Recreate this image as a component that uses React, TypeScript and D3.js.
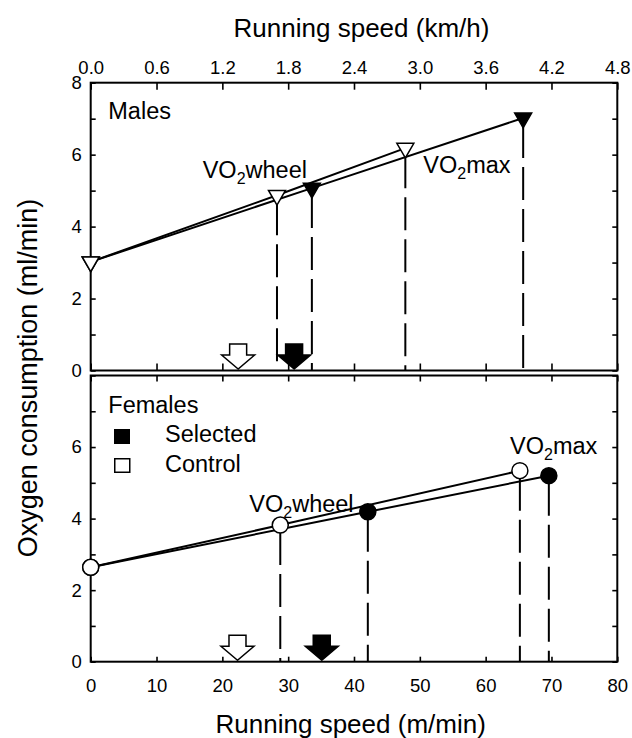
import React, { useEffect, useRef } from 'react';
import * as d3 from 'd3';

const W = 632;
const H = 738;

// Tick values
const speedTicks = [0, 10, 20, 30, 40, 50, 60, 70, 80];
const kmhTicks = [0, 0.6, 1.2, 1.8, 2.4, 3.0, 3.6, 4.2, 4.8];
const vo2Ticks = [0, 1, 2, 3, 4, 5, 6, 7, 8];
const upperLabels = [0, 2, 4, 6, 8];
const lowerLabels = [0, 2, 4, 6];

// Males (m/min, ml/min)
const maleControlSpeed = [0, 28.3, 47.8];
const maleControlVO2 = [3.02, 4.87, 6.18];
const maleSelectedSpeed = [0, 33.6, 65.7];
const maleSelectedVO2 = [3.02, 5.07, 7.02];
const maleArrowControl = 22.4;
const maleArrowSelected = 30.9;

// Females
const femaleControlSpeed = [0, 28.8, 65.2];
const femaleControlVO2 = [2.64, 3.82, 5.34];
const femaleSelectedSpeed = [0, 42.1, 69.6];
const femaleSelectedVO2 = [2.64, 4.19, 5.2];
const femaleArrowControl = 22.3;
const femaleArrowSelected = 35.1;

const FONT = "'Liberation Sans', Arial, Helvetica, sans-serif";

export default function App() {
  const ref = useRef<SVGSVGElement>(null);

  useEffect(() => {
    const svg = d3.select(ref.current);
    svg.selectAll('*').remove();

    const X0 = 90.7;
    const X1 = 617.3;
    const x = d3.scaleLinear().domain([0, 80]).range([X0, X1]);
    const xKm = d3.scaleLinear().domain([0, 4.8]).range([X0, X1]);
    const yU = d3.scaleLinear().domain([0, 8]).range([370.5, 82.7]);
    const yL = d3.scaleLinear().domain([0, 8]).range([661.7, 375.5]);

    const styleAxis = (g: any, size = 18.5) => {
      g.select('.domain').remove();
      g.selectAll('line').attr('stroke', '#000').attr('stroke-width', 1.6);
      g.selectAll('text').attr('font-size', size).attr('font-family', FONT).attr('fill', '#000');
      g.attr('font-family', FONT);
    };

    const panels = [
      {
        y: yU,
        labels: upperLabels,
        top: true,
        groups: [
          { speed: maleSelectedSpeed, vo2: maleSelectedVO2, filled: true },
          { speed: maleControlSpeed, vo2: maleControlVO2, filled: false },
        ],
        arrows: [
          { s: maleArrowControl, filled: false },
          { s: maleArrowSelected, filled: true },
        ],
        marker: 'tri',
      },
      {
        y: yL,
        labels: lowerLabels,
        top: false,
        groups: [
          { speed: femaleSelectedSpeed, vo2: femaleSelectedVO2, filled: true },
          { speed: femaleControlSpeed, vo2: femaleControlVO2, filled: false },
        ],
        arrows: [
          { s: femaleArrowControl, filled: false },
          { s: femaleArrowSelected, filled: true },
        ],
        marker: 'circle',
      },
    ];

    panels.forEach((p) => {
      const y = p.y;
      const yTop = y(8);
      const yBot = y(0);

      const gl = svg.append('g').attr('transform', `translate(${X0},0)`)
        .call(d3.axisLeft(y).tickValues(vo2Ticks).tickSizeInner(-5).tickSizeOuter(0).tickPadding(9)
          .tickFormat((d: any) => (p.labels.includes(d) ? String(d) : '')));
      styleAxis(gl);
      const gr = svg.append('g').attr('transform', `translate(${X1},0)`)
        .call(d3.axisRight(y).tickValues(vo2Ticks).tickSizeInner(-5).tickSizeOuter(0).tickFormat(() => ''));
      styleAxis(gr);
      if (p.top) {
        const gt = svg.append('g').attr('transform', `translate(0,${yTop})`)
          .call(d3.axisTop(xKm).tickValues(kmhTicks).tickSizeInner(-7).tickSizeOuter(0).tickPadding(8.7)
            .tickFormat(d3.format('.1f') as any));
        styleAxis(gt);
        const gb = svg.append('g').attr('transform', `translate(0,${yBot})`)
          .call(d3.axisBottom(x).tickValues(speedTicks).tickSizeInner(-7).tickSizeOuter(0).tickFormat(() => ''));
        styleAxis(gb);
      } else {
        const gt = svg.append('g').attr('transform', `translate(0,${yTop})`)
          .call(d3.axisTop(x).tickValues(speedTicks).tickSizeInner(-6).tickSizeOuter(0).tickFormat(() => ''));
        styleAxis(gt);
        const gb = svg.append('g').attr('transform', `translate(0,${yBot})`)
          .call(d3.axisBottom(x).tickValues(speedTicks).tickSizeInner(-5).tickSizeOuter(0).tickPadding(17)
            .tickFormat((d: any) => String(d)));
        styleAxis(gb);
      }

      svg.append('rect')
        .attr('x', X0).attr('y', yTop)
        .attr('width', X1 - X0).attr('height', yBot - yTop)
        .attr('fill', 'none').attr('stroke', '#000').attr('stroke-width', 2);

      p.groups.forEach((g) => {
        const pts: [number, number][] = g.speed.map((s, i) => [x(s), y(g.vo2[i])]);
        svg.append('path')
          .attr('d', d3.line()(pts) as string)
          .attr('fill', 'none').attr('stroke', '#000').attr('stroke-width', 2);
      });

      p.groups.forEach((g) => {
        g.speed.forEach((s, i) => {
          if (i === 0) return;
          svg.append('line')
            .attr('x1', x(s)).attr('x2', x(s))
            .attr('y1', y(g.vo2[i]) + 7).attr('y2', yBot)
            .attr('stroke', '#000').attr('stroke-width', 2)
            .attr('stroke-dasharray', '33 9');
        });
      });

      p.arrows.forEach((a) => {
        const cx = x(a.s);
        const b = yBot - 1.5;
        const pth = d3.path();
        pth.moveTo(cx, b);
        pth.lineTo(cx - 16.5, b - 14);
        pth.lineTo(cx - 8.5, b - 14);
        pth.lineTo(cx - 8.5, b - 25);
        pth.lineTo(cx + 8.5, b - 25);
        pth.lineTo(cx + 8.5, b - 14);
        pth.lineTo(cx + 16.5, b - 14);
        pth.closePath();
        svg.append('path').attr('d', pth.toString())
          .attr('fill', a.filled ? '#000' : '#fff')
          .attr('stroke', '#000').attr('stroke-width', 1.5).attr('stroke-linejoin', 'miter');
      });

      p.groups.forEach((g) => {
        g.speed.forEach((s, i) => {
          const cx = x(s);
          const cy = y(g.vo2[i]);
          if (p.marker === 'tri') {
            svg.append('path')
              .attr('d', d3.symbol(d3.symbolTriangle, 125)() as string)
              .attr('transform', `translate(${cx},${cy}) rotate(180)`)
              .attr('fill', g.filled ? '#000' : '#fff')
              .attr('stroke', '#000').attr('stroke-width', 1.5);
          } else {
            svg.append('circle')
              .attr('cx', cx).attr('cy', cy).attr('r', 8)
              .attr('fill', g.filled ? '#000' : '#fff')
              .attr('stroke', '#000').attr('stroke-width', 1.5);
          }
        });
      });
    });

    const txt = (xx: number, yy: number, s: string, size = 23.5, anchor = 'start') =>
      svg.append('text').attr('x', xx).attr('y', yy).attr('font-family', FONT)
        .attr('font-size', size).attr('text-anchor', anchor).attr('fill', '#000').text(s);

    const voText = (xx: number, yy: number, suffix: string) => {
      const t = svg.append('text').attr('x', xx).attr('y', yy).attr('font-family', FONT)
        .attr('font-size', 23.5).attr('fill', '#000');
      t.append('tspan').text('VO');
      t.append('tspan').attr('dy', 6).attr('font-size', 16).text('2');
      t.append('tspan').attr('dy', -6).text(suffix);
    };

    txt(108.3, 119.3, 'Males');
    voText(202.7, 178.3, 'wheel');
    voText(423.3, 173.3, 'max');

    txt(108.3, 412.7, 'Females');
    svg.append('rect').attr('x', 114).attr('y', 429).attr('width', 16).attr('height', 15).attr('fill', '#000');
    svg.append('rect').attr('x', 114.75).attr('y', 458.75).attr('width', 15).attr('height', 13.5)
      .attr('fill', '#fff').attr('stroke', '#000').attr('stroke-width', 1.5);
    txt(165, 441.7, 'Selected');
    txt(165, 471.7, 'Control');
    voText(249.3, 511.7, 'wheel');
    voText(510, 454, 'max');

    txt(361.5, 36.5, 'Running speed (km/h)', 26, 'middle');
    txt(350.7, 732.7, 'Running speed (m/min)', 26, 'middle');
    svg.append('text')
      .attr('transform', `translate(37,378) rotate(-90)`)
      .attr('font-family', FONT).attr('font-size', 27).attr('text-anchor', 'middle').attr('fill', '#000')
      .text('Oxygen consumption (ml/min)');
  }, []);

  return (
    <svg ref={ref} width={W} height={H}
      style={{ position: 'absolute', left: 0, top: 0, background: '#fff', display: 'block' }} />
  );
}
